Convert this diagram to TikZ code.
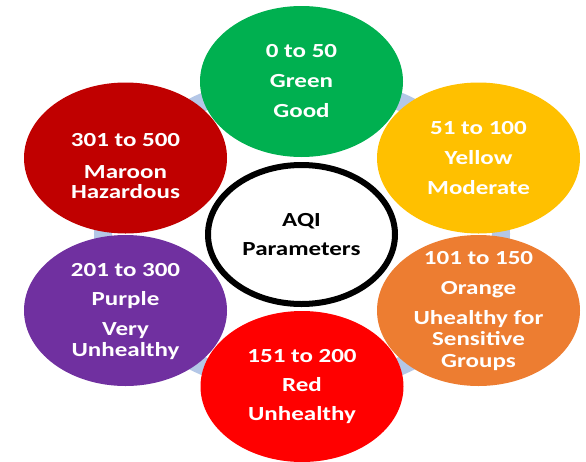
\documentclass[tikz,border=0pt]{standalone}
\usepackage{fontspec}
\setmainfont{Carlito}[FakeStretch=1.25]
\usetikzlibrary{shapes.geometric,calc}
\definecolor{cgreen}{RGB}{0,176,80}
\definecolor{cyellow}{RGB}{255,192,0}
\definecolor{corange}{RGB}{237,125,49}
\definecolor{cred}{RGB}{255,0,0}
\definecolor{cpurple}{RGB}{112,48,160}
\definecolor{cmaroon}{RGB}{192,0,0}
\definecolor{ringblue}{RGB}{180,199,231}
\begin{document}
\begin{tikzpicture}[x=1pt,y=-1pt,
  bubble/.style={ellipse, minimum width=203pt, minimum height=151pt, inner sep=0pt, draw=none},
  lbl/.style={align=center, text=white, font=\fontsize{20}{21}\selectfont\bfseries, inner sep=0pt},
  hub/.style={ellipse, minimum width=187pt, minimum height=139pt, inner sep=0pt, draw=black, line width=6pt, fill=white}]
\useasboundingbox (0,0) rectangle (586,461);
\fill[white] (0,0) rectangle (586,461);
\draw[ringblue, line width=18pt] (302,234) ellipse [x radius=199pt, y radius=152pt];

\node[bubble, fill=cgreen]  (green)  at (301.5,81.5) {};
\node[bubble, fill=cyellow] (yellow) at (478.5,158) {};
\node[bubble, fill=corange] (orange) at (478.5,310.5) {};
\node[bubble, fill=cred]    (red)    at (302,386.5) {};
\node[bubble, fill=cpurple] (purple) at (125.5,310.5) {};
\node[bubble, fill=cmaroon] (maroon) at (125.5,158) {};

\node[lbl] (greentext)  at (green.center)  {0 to 50\\[9pt]Green\\[9pt]Good};
\node[lbl] (yellowtext) at (yellow.center) {51 to 100\\[9pt]Yellow\\[9pt]Moderate};
\node[lbl] (orangetext) at ($(orange.center)+(0,1)$) {101 to 150\\[9pt]Orange\\[9pt]Uhealthy for\\Sensitive\\[1pt]Groups};
\node[lbl] (redtext)    at (red.center)    {151 to 200\\[8pt]Red\\[8pt]Unhealthy};
\node[lbl] (purpletext) at ($(purple.center)+(0,1)$) {201 to 300\\[8pt]Purple\\[9pt]Very\\Unhealthy};
\node[lbl] (maroontext) at (125.5,166) {301 to 500\\[11pt]Maroon\\[-1pt]Hazardous};

\node[hub] (hub) at (301.5,234.5) {};
\node[lbl, text=black] (hubtext) at (hub.center) {AQI\\[8pt]Parameters};
\end{tikzpicture}
\end{document}
